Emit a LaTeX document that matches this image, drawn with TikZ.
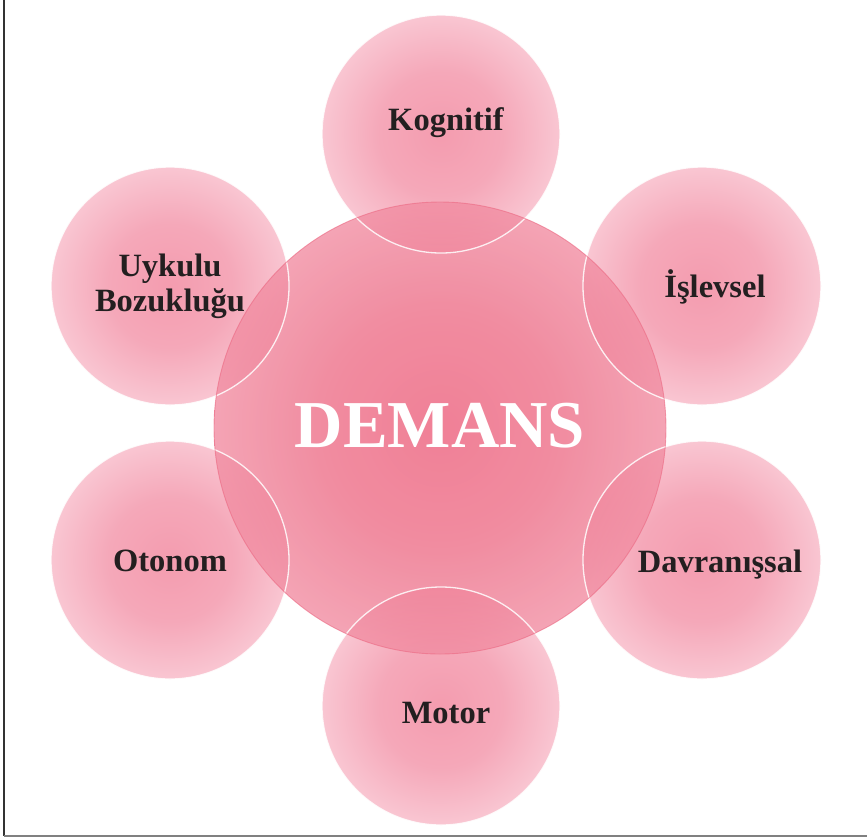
\documentclass[tikz,border=0pt]{standalone}
\usepackage{fontspec}
\setmainfont{Liberation Serif}
\definecolor{satin}{RGB}{244,156,175}
\definecolor{satmid}{RGB}{245,168,185}
\definecolor{satout}{RGB}{249,198,210}
\definecolor{cenin}{RGB}{236,96,124}
\definecolor{cenmid}{RGB}{237,111,136}
\definecolor{cenout}{RGB}{241,141,162}
\definecolor{cenrim}{RGB}{236,104,130}
\definecolor{txt}{RGB}{35,31,32}
% radial shadings: the 25bp stop lies on the circle's edge
\pgfdeclareradialshading{satball}{\pgfpoint{0bp}{0bp}}{color(0bp)=(satin); color(13bp)=(satmid); color(25bp)=(satout); color(50bp)=(satout)}
\pgfdeclareradialshading{cenball}{\pgfpoint{0bp}{0bp}}{color(0bp)=(cenin); color(13bp)=(cenmid); color(25bp)=(cenout); color(50bp)=(cenout)}
\begin{document}
\begin{tikzpicture}[x=1pt,y=-1pt,
  sat/.style={circle, minimum size=238pt, inner sep=0pt, shading=satball},
  centre/.style={circle, minimum size=452pt, inner sep=0pt, shading=cenball,
    fill opacity=0.8},
  rim/.style={draw=white, draw opacity=0.85, line width=1.3pt},
  cenedge/.style={draw=cenrim, draw opacity=0.6, line width=0.9pt},
  lbl/.style={anchor=base, text=txt, font=\bfseries\fontsize{32.5}{35}\selectfont},
  title/.style={anchor=base, text=white, font=\bfseries\fontsize{67}{70}\selectfont},
  frameline/.style={line width=1.2pt}]
\useasboundingbox (0,0) rectangle (867,839);

% outer frame (left and bottom sides only)
\draw[frameline, color=black!80] (4,0) -- (4,836);
\draw[frameline, line width=1.8pt, color=black!50] (4,836) -- (867,836);

% six satellite circles
\node[sat] (kog) at (441,134) {};
\node[sat] (isl) at (702,286) {};
\node[sat] (dav) at (702,560) {};
\node[sat] (mot) at (441,706) {};
\node[sat] (oto) at (170,560) {};
\node[sat] (uyk) at (170,286) {};

% translucent central circle
\node[centre] (dem) at (440,428) {};

% light rims of the satellites and the pink edge of the centre
\foreach \n in {kog,isl,dav,mot,oto,uyk}
  \draw[rim] (\n) circle[radius=119pt];
\draw[cenedge] (dem) circle[radius=226pt];

% labels
\node[lbl] (kogt) at (446,130) {Kognitif};
\node[lbl] (islt) at (715,297) {İşlevsel};
\node[lbl] (davt) at (720,572) {Davranışsal};
\node[lbl] (mott) at (446,723) {Motor};
\node[lbl] (otot) at (170,571) {Otonom};
\node[lbl, anchor=center, align=center] (uykt) at (170,286) {Uykulu\\Bozukluğu};
\node[title] (demt) at (440,447) {DEMANS};
\end{tikzpicture}
\end{document}
